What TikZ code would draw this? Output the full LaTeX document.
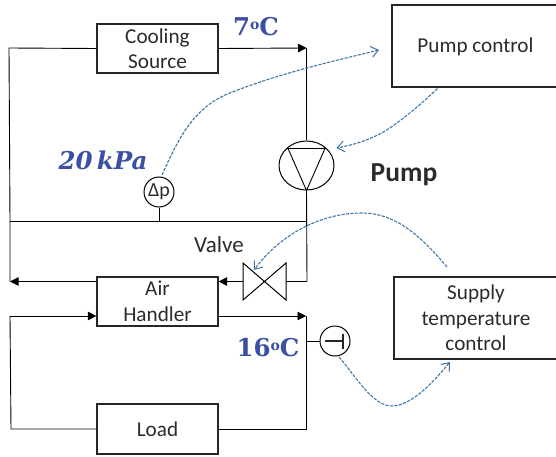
\documentclass[tikz,border=0pt]{standalone}
\usepackage{fontspec}
\setmainfont{Carlito}
\newfontfamily\numfont{DejaVu Serif}
\usetikzlibrary{arrows.meta,calc,shapes.geometric}
\definecolor{ctrlblue}{HTML}{3F76A8}
\definecolor{valblue}{HTML}{3B4FA3}
\definecolor{txt}{HTML}{2B2B2B}
\tikzset{
  box/.style={draw=black!85,line width=1.2pt,inner sep=0pt,align=center,text=txt,font=\fontsize{21.2}{25.5}\selectfont},
  pipe/.style={draw=black,line width=0.9pt},
  flow/.style={pipe,-{Triangle[length=8.5pt,width=8.5pt]}},
  ctrl/.style={draw=ctrlblue,line width=1.1pt,dash pattern=on 3.2pt off 1.3pt,-{Straight Barb[length=7pt,width=11pt,line width=1pt]}},
  val/.style={text=valblue,inner sep=0pt,font=\numfont\bfseries\fontsize{24.5}{26}\selectfont},
  lab/.style={text=txt,inner sep=0pt,font=\fontsize{23}{25}\selectfont},
  sens/.style={draw=black,line width=1pt,circle,inner sep=0pt,minimum size=30pt,text=txt,font=\fontsize{20}{20}\selectfont},
}
\begin{document}
\begin{tikzpicture}[x=1pt,y=-1pt]
\useasboundingbox (0,0) rectangle (556,457);
\node[box,minimum width=121pt,minimum height=49pt] (cool) at (157.5,48.5) {Cooling\\Source};
\node[box,minimum width=121pt,minimum height=49pt] (air) at (157.5,301.5) {Air\\Handler};
\node[box,minimum width=121pt,minimum height=50pt] (load) at (157.5,429) {Load};
\node[box,minimum width=166pt,minimum height=82pt] (pc) at (475,46) {};
\node[box,minimum width=164pt,minimum height=82pt] (stc) at (476,318) {Supply\\temperature\\control};
\node[draw=black,line width=1pt,ellipse,inner sep=0pt,minimum width=55pt,minimum height=49pt] (pump) at (306.5,165.5) {};
\node[sens] (dp) at (159,192) {Δp};
\node[sens] (ts) at (335,341) {};
\coordinate (tl) at (9,48);
\coordinate (tr) at (306.5,48);
\coordinate (ml) at (10,221);
\coordinate (mr) at (307,221);
\coordinate (al) at (10,281.5);
\coordinate (ar) at (307,281.5);
\coordinate (il) at (10,316);
\coordinate (ir) at (306,316);
\coordinate (bl) at (11,429);
\coordinate (br) at (306,429);
\coordinate (ps) at (307,341);
\coordinate (dps) at (159,221);
% pipes
\draw[pipe] (cool.west) -- (tl) -- (ml) -- (al);
\draw[flow] (cool.east) -- (tr);
\draw[pipe] (tr) -- (pump.north);
\draw[pipe] (pump.south) -- (ar);
\draw[pipe] (ml) -- (mr);
\draw[pipe] (dp.south) -- (dps);
\draw[flow] (ar) -- (air.east |- ar);
\draw[flow] (air.west |- ar) -- (al);
\draw[flow] (il) -- (air.west |- il);
\draw[flow] (air.east |- ir) -- (ir);
\draw[pipe] (il) -- (bl) -- (load.west);
\draw[pipe] (load.east) -- (br) -- (ir);
\draw[pipe] (ps) -- (ts.west);
% pump symbol
\draw[pipe] (287,148.5) -- (326,148.5);
\draw[pipe] (288,148.5) -- (pump.south) -- (325,148.5);
% valve
\draw[line width=1pt,fill=white] (243,263) -- (286,300) -- (286,263) -- (243,300) -- cycle;
% temperature sensor symbol
\draw[line width=1.3pt,draw=black!85] (325,341) -- (343,341) (343,333.5) -- (343,348.5);
% control lines
\coordinate (e1) at (379,50);
\coordinate (e2) at (336.5,148);
\coordinate (e3) at (254,270);
\coordinate (e4) at (450,362);
\draw[ctrl] ($(dp.north)+(3,-1.5)$) .. controls (180,135) and (195,105) .. (235,91) .. controls (285,72) and (330,62) .. (e1);
\draw[ctrl] ($(pc.south west)+(46,1)$) .. controls (415,110) and (395,125) .. (385,131) .. controls (368,141) and (352,145) .. (e2);
\draw[ctrl] (447,267) .. controls (420,235) and (395,213) .. (362,213) .. controls (320,213) and (280,235) .. (e3);
\draw[ctrl] ($(ts.south)+(4,0.5)$) .. controls (355,375) and (372,406) .. (392,406) .. controls (412,406) and (435,380) .. (e4);
% labels
\node[text=txt,inner sep=0pt,font=\fontsize{21.2}{25}\selectfont] (pct) at (475.5,47) {Pump control};
\node[val] (t7) at (256,27) {7\raisebox{6pt}{\fontsize{14}{14}\selectfont o}C};
\node[val] (t16) at (268,348) {16\raisebox{6pt}{\fontsize{14}{14}\selectfont o}C};
\node[val,font=\numfont\bfseries\itshape\fontsize{24.5}{26}\selectfont] (kpa) at (103,160) {20\,kPa};
\node[lab] (valve) at (219,245) {Valve};
\node[lab,font=\bfseries\fontsize{27.5}{29}\selectfont] (pl) at (404,175) {Pump};
\end{tikzpicture}
\end{document}
